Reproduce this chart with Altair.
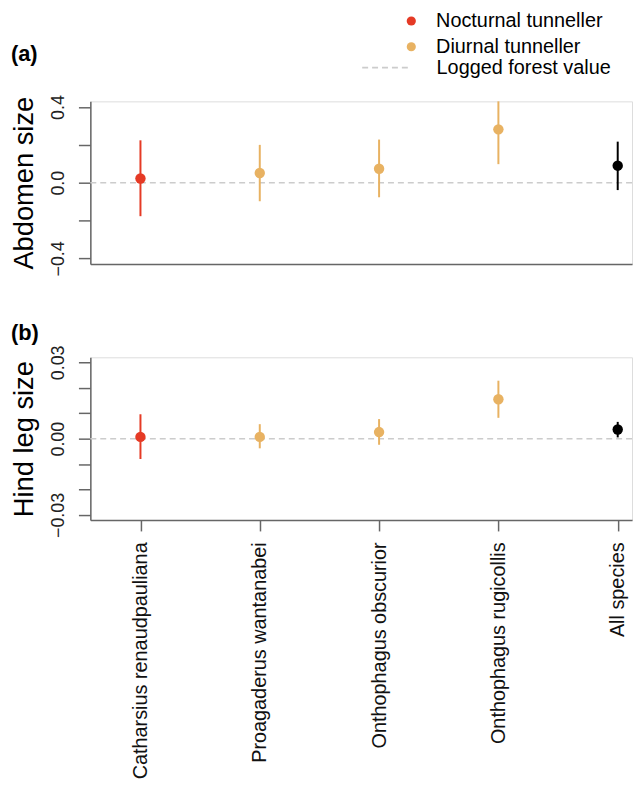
import json
import altair as alt
import pandas as pd

# ---- data ----
species = ["Catharsius renaudpauliana", "Proagaderus wantanabei",
           "Onthophagus obscurior", "Onthophagus rugicollis", "All species"]
groups = ["Nocturnal tunneller", "Diurnal tunneller", "Diurnal tunneller",
          "Diurnal tunneller", "All species"]

abd_est = [0.022, 0.051, 0.074, 0.282, 0.090]
abd_lo = [-0.177, -0.098, -0.077, 0.098, -0.039]
abd_hi = [0.224, 0.200, 0.228, 0.430, 0.217]

leg_est = [0.0007, 0.0007, 0.0026, 0.0155, 0.0036]
leg_lo = [-0.0080, -0.0038, -0.0024, 0.0082, 0.0005]
leg_hi = [0.0096, 0.0057, 0.0077, 0.0228, 0.0066]

group_domain = ["Nocturnal tunneller", "Diurnal tunneller", "All species"]
group_colors = ["#E53A25", "#E8B262", "#000000"]
legend_groups = ["Nocturnal tunneller", "Diurnal tunneller"]
legend_colors = ["#E53A25", "#E8B262"]
overall_group = "All species"
overall_color = "#000000"
ref_label = ["Logged forest value"]
ref_value = [0.0]

abd_ticks = [-0.4, -0.2, 0.0, 0.2, 0.4]
leg_ticks = [-0.03, -0.02, -0.01, 0.0, 0.01, 0.02, 0.03]

FONT = "Liberation Sans"
AXIS_COL = "#666666"
W = 546
H = 164

x_label_expr = json.dumps(species) + "[datum.value - 1]"

color_scale = alt.Scale(domain=legend_groups, range=legend_colors)
stroke_scale = alt.Scale(domain=group_domain, range=group_colors)
dash_scale = alt.Scale(domain=ref_label, range=[[6, 4]])

color_legend = alt.Legend(
    title=None, orient="none", legendX=313.5, legendY=-91,
    symbolType="circle", symbolSize=85,
    labelFontSize=20, labelFont=FONT,
    labelColor="black", rowPadding=6, padding=0, labelOffset=15,
    labelLimit=0,
)
dash_legend = alt.Legend(
    title=None, orient="none", legendX=273, legendY=-58,
    symbolType="stroke", symbolSize=2116, symbolStrokeColor="#cccccc",
    symbolStrokeWidth=2, labelFontSize=20, labelFont=FONT,
    labelColor="black", padding=0, labelOffset=28, labelLimit=0,
)


def panel(est, lo, hi, tag, ytitle, domain, ticks, label_expr, show_x, title_offset):
    df = pd.DataFrame({
        "species": species,
        "pos": list(range(1, len(species) + 1)),
        "group": groups,
        "est": est, "lo": lo, "hi": hi,
    })
    ref = pd.DataFrame({"what": ref_label, "y": ref_value})

    xscale = alt.Scale(domain=[0.58, 5.12], nice=False, zero=False)
    if show_x:
        xaxis = alt.Axis(values=list(range(1, len(species) + 1)), labelExpr=x_label_expr,
                         labelAngle=-90, labelAlign="right", labelBaseline="middle",
                         labelFontSize=20, labelFont=FONT, labelColor="#111111",
                         labelPadding=11, labelLimit=0, tickSize=11, tickWidth=1.5,
                         tickColor=AXIS_COL, domainColor=AXIS_COL, domainWidth=1.5,
                         title=None, grid=False)
    else:
        xaxis = alt.Axis(labels=False, ticks=False, title=None, grid=False,
                         domainColor=AXIS_COL, domainWidth=1.5)

    yscale = alt.Scale(domain=domain, nice=False, zero=False)
    yaxis = alt.Axis(values=ticks, labelExpr=label_expr, labelAngle=-90,
                     labelAlign="center", labelBaseline="bottom",
                     labelFontSize=18, labelFont=FONT, labelColor="#222222",
                     labelPadding=11, tickSize=12, tickWidth=1.5, tickColor=AXIS_COL,
                     domainColor=AXIS_COL, domainWidth=1.5, grid=False,
                     title=ytitle, titleFont=FONT, titleFontSize=27.5,
                     titleFontWeight="normal", titleColor="black",
                     titleAngle=-90, titleAlign="center", titleBaseline="alphabetic",
                     titleX=-58, titleY=H / 2)

    base = alt.Chart(df)

    dashed = alt.Chart(ref).mark_rule(strokeWidth=1.5).encode(
        y=alt.Y("y:Q", scale=yscale, axis=yaxis),
        strokeDash=alt.StrokeDash("what:N", scale=dash_scale, legend=dash_legend),
        stroke=alt.value("#cccccc"),
    )
    bars = base.mark_rule(strokeWidth=2).encode(
        x=alt.X("pos:Q", scale=xscale, axis=xaxis),
        y=alt.Y("lo:Q", scale=yscale, axis=yaxis),
        y2="hi:Q",
        stroke=alt.Stroke("group:N", scale=stroke_scale, legend=None),
    )
    pts = base.transform_filter(
        alt.datum.group != overall_group
    ).mark_circle(size=110, opacity=1).encode(
        x=alt.X("pos:Q", scale=xscale, axis=xaxis),
        y=alt.Y("est:Q", scale=yscale, axis=yaxis),
        color=alt.Color("group:N", scale=color_scale, legend=color_legend),
    )
    overall = base.transform_filter(
        alt.datum.group == overall_group
    ).mark_circle(size=110, opacity=1, color=overall_color).encode(
        x=alt.X("pos:Q", scale=xscale, axis=xaxis),
        y=alt.Y("est:Q", scale=yscale, axis=yaxis),
    )
    return alt.layer(dashed, bars, pts, overall).properties(
        width=W, height=H,
        title=alt.TitleParams(text=tag, anchor="start", frame="bounds",
                              fontSize=22, fontWeight="bold", font=FONT,
                              color="black", offset=title_offset),
    )


abd_expr = "abs(datum.value) < 1e-9 || abs(datum.value) > 0.3 ? format(datum.value, '.1f') : ''"
leg_expr = "abs(datum.value) < 1e-9 || abs(datum.value) > 0.025 ? format(datum.value, '.2f') : ''"

pa = panel(abd_est, abd_lo, abd_hi, "(a)", "Abdomen size", [-0.43, 0.43],
           abd_ticks, abd_expr, False, 29)
pb = panel(leg_est, leg_lo, leg_hi, "(b)", "Hind leg size", [-0.032, 0.032],
           leg_ticks, leg_expr, True, 0)

chart = (
    alt.vconcat(pa, pb, spacing=94, bounds="flush")
    .resolve_scale(y="independent", x="independent", color="shared",
                   stroke="shared", strokeDash="shared")
    .resolve_legend(color="shared", strokeDash="shared", stroke="shared")
    .properties(padding={"left": 2, "top": 0, "right": 2, "bottom": 2})
    .configure_view(stroke=None)
    .configure(font=FONT)
)

chart.save("out.html", embed_options={"renderer": "svg", "actions": False})
